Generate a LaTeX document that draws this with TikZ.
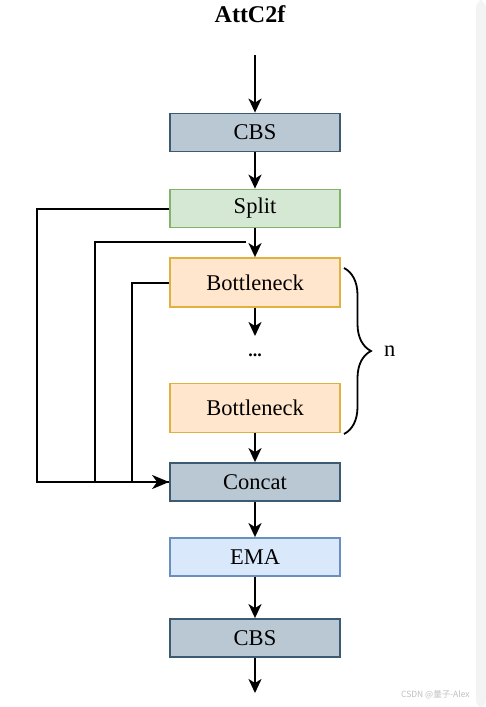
\documentclass[tikz,border=0pt]{standalone}
\usepackage{fontspec}
\setmainfont{Liberation Serif}
\newfontfamily\cjk{Noto Sans CJK SC}
\usepackage{tikz}
\usetikzlibrary{arrows.meta}
\usetikzlibrary{positioning}
\usetikzlibrary{decorations.pathreplacing}
\definecolor{cbsfill}{HTML}{BAC8D3}
\definecolor{cbsline}{HTML}{3D5A73}
\definecolor{splitfill}{HTML}{D5E8D4}
\definecolor{splitline}{HTML}{82B366}
\definecolor{bnfill}{HTML}{FFE6CC}
\definecolor{bnline}{HTML}{E0B040}
\definecolor{emafill}{HTML}{DAE8FC}
\definecolor{emaline}{HTML}{6C8EBF}
\definecolor{stripgray}{HTML}{F3F3F3}

\begin{document}
\begin{tikzpicture}[x=1pt,y=-1pt,->,>={Stealth[length=14pt,width=13pt,inset=4pt]},line width=2pt,
    block/.style={rectangle,draw,line width=1.8pt,minimum width=170pt,minimum height=38pt,inner sep=0pt,font=\fontsize{22.5}{24}\selectfont},
    cbs node/.style={block,fill=cbsfill,draw=cbsline},
    split node/.style={block,fill=splitfill,draw=splitline},
    bn node/.style={block,fill=bnfill,draw=bnline,minimum height=49pt},
    ema node/.style={block,fill=emafill,draw=emaline}]
  \useasboundingbox (0,0) rectangle (485,707);
  % page strip on the right
  \fill[stripgray,rounded corners=8pt] (476,708) -- (476,0) -- (486,0) -- (486,708) -- cycle;

  \node[font=\bfseries\fontsize{24}{26}\selectfont] (title) at (250,14) {AttC2f};
  \coordinate (in) at (255,55);
  \node[cbs node] (cbs1) at (255,132.5) {CBS};
  \node[split node] (split) at (255,208.5) {Split};
  \node[bn node] (bn1) at (255,282.5) {Bottleneck};
  \node[font=\bfseries\fontsize{18}{20}\selectfont,inner sep=0pt,minimum height=36pt] (dots) at (255,355) {...};
  \node[bn node] (bn2) at (255,408) {Bottleneck};
  \node[cbs node] (concat) at (255,482) {Concat};
  \node[ema node] (ema) at (255,557) {EMA};
  \node[cbs node] (cbs2) at (255,638) {CBS};
  \coordinate (out) at (255,693);
  \coordinate (tap) at (246,242);

  \path (in) edge (cbs1);
  \path (cbs1) edge (split);
  \path (split) edge (bn1);
  \path (bn1) edge (dots);
  \path (bn2) edge (concat);
  \path (concat) edge (ema);
  \path (ema) edge (cbs2);
  \path (cbs2) edge (out);

  % skip connections into Concat
  \draw[-] (split.west) -- ++(-132,0) |- (concat.west);
  \draw[-] (tap) -- ++(-151,0) |- (concat.west);
  \draw[>={Stealth[length=17pt,width=14pt,inset=5pt]}] (bn1.west) -- ++(-37,0) |- (concat.west);

  % repeat brace
  \draw[-,decorate,decoration={brace,amplitude=27pt,aspect=0.5},line width=1.8pt] (344,268) -- (344,434) node[midway,right=36pt,font=\fontsize{22.5}{24}\selectfont] (n) {n};

  \node[font=\cjk\fontsize{8.5}{10}\selectfont,text=gray!50,anchor=east] (mark) at (474,695) {CSDN @量子-Alex};
\end{tikzpicture}
\end{document}
